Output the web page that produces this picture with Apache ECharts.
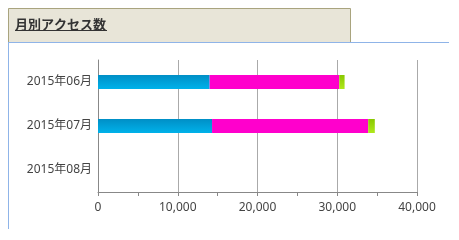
<!DOCTYPE html>
<html>
<head>
<meta charset="utf-8">
<script src="https://cdn.jsdelivr.net/npm/echarts@6/dist/echarts.min.js"></script>
<style>html,body{margin:0;padding:0;background:#fff}#c{width:459px;height:240px}</style>
</head>
<body>
<div id="c"></div>
<script>
var categories = ['2015年06月', '2015年07月', '2015年08月'];
var seriesA = [14000, 14300, null];
var seriesB = [16250, 19580, null];
var seriesC = [670, 830, null];
var xTicks = [0, 10000, 20000, 30000, 40000];

var chart = echarts.init(document.getElementById('c'));
var font = '"Noto Sans", "Noto Sans CJK JP", sans-serif';
function grad(top, bottom) {
  return new echarts.graphic.LinearGradient(0, 0, 0, 1, [{offset: 0, color: top}, {offset: 1, color: bottom}]);
}
chart.setOption({
  animation: false,
  grid: {left: 98, right: 42, top: 60, bottom: 48},
  xAxis: {
    type: 'value', min: xTicks[0], max: xTicks[xTicks.length - 1], interval: 10000,
    axisLine: {show: true, lineStyle: {color: '#888', width: 1}},
    axisTick: {show: true, length: 4, lineStyle: {color: '#888'}},
    minorTick: {show: true, splitNumber: 2, length: 4, lineStyle: {color: '#888'}},
    splitLine: {show: true, lineStyle: {color: '#aaa', width: 1}},
    axisLabel: {color: '#444', fontFamily: font, fontSize: 12, margin: 10,
      formatter: function (v) { return v.toLocaleString('en-US'); }}
  },
  yAxis: {
    type: 'category', data: categories, inverse: true,
    axisLine: {show: true, lineStyle: {color: '#888'}},
    axisTick: {show: false},
    axisLabel: {color: '#444', fontFamily: font, fontSize: 12, margin: 6}
  },
  series: [
    {type: 'bar', stack: 's', data: seriesA, barWidth: 14, itemStyle: {color: grad('#008fc6', '#00b2ea')}},
    {type: 'bar', stack: 's', data: seriesB, barWidth: 14, itemStyle: {color: '#ff00cc'}},
    {type: 'bar', stack: 's', data: seriesC, barWidth: 14, itemStyle: {color: grad('#88c800', '#b0e81c')}}
  ],
  graphic: [
    {type: 'rect', shape: {x: 8.5, y: 8.5, width: 342, height: 34}, style: {fill: '#e8e5d8', stroke: '#a9a47e', lineWidth: 1}},
    {type: 'line', shape: {x1: 8, y1: 42.5, x2: 449, y2: 42.5}, style: {stroke: '#8fb4e8', lineWidth: 1}},
    {type: 'line', shape: {x1: 8.5, y1: 42, x2: 8.5, y2: 229}, style: {stroke: '#8fb4e8', lineWidth: 1}},
    {type: 'text', x: 15, y: 18, style: {text: '月別アクセス数', fill: '#333', font: 'bold 13px "Noto Sans CJK JP", sans-serif'}},
    {type: 'line', shape: {x1: 15, y1: 30.5, x2: 107, y2: 30.5}, style: {stroke: '#333', lineWidth: 1}}
  ]
});
</script>
</body>
</html>
